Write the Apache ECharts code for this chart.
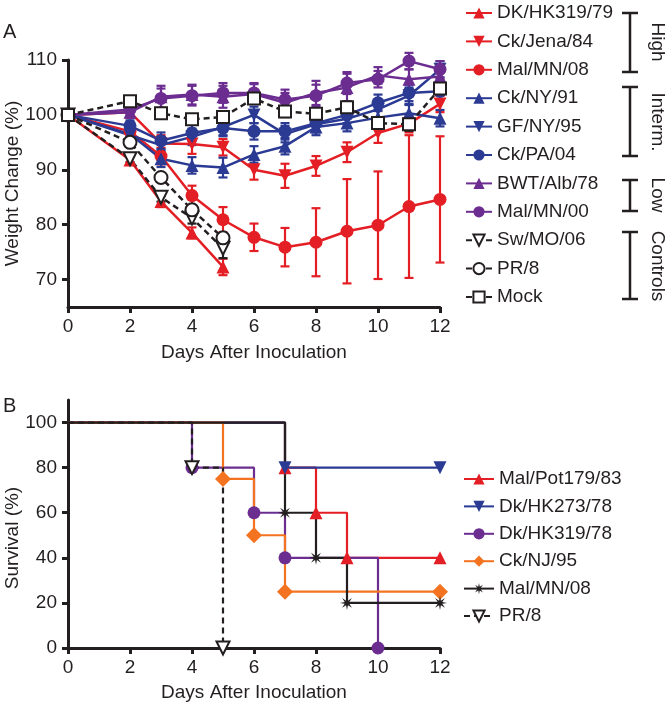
<!DOCTYPE html>
<html>
<head>
<meta charset="utf-8">
<script src="https://cdn.jsdelivr.net/npm/echarts@6/dist/echarts.min.js"></script>
<style>
  html, body { margin: 0; padding: 0; background: #fff; }
  #chart { width: 666px; height: 708px; }
</style>
</head>
<body>
<div id="chart"></div>
<script>
// ---- panel A: weight change (%) ----
const days = [0, 2, 3, 4, 5, 6, 7, 8, 9, 10, 11, 12];
const daysShort = [0, 2, 3, 4, 5];

const dkHK319_79 = [100, 91.8, 84.2, 78.5, 72.3];
const dkHK319_79Err = [0, 0.8, 1, 1, 1.5];
const ckJena84 = [100, 100.5, 94.8, 94.7, 94.1, 90, 88.9, 90.7, 93.2, 96.7, 98.4, 102];
const ckJena84Err = [0, 1, 1.5, 1.8, 1.5, 1.8, 2.2, 1.8, 1.8, 1.8, 1.6, 1.5];
const malMN08 = [100, 97, 92.5, 85.3, 80.9, 77.7, 75.9, 76.8, 78.8, 79.9, 83.3, 84.6];
const malMN08Err = [0, 1, 1.5, 1.8, 2.3, 2.5, 3.5, 6.2, 9.5, 9.8, 13, 11.5];
const ckNY91 = [100, 96.5, 92, 90.8, 90.4, 92.8, 94.3, 97.8, 98.5, 99.5, 100.3, 99.4];
const ckNY91Err = [0, 1, 1.5, 1.5, 1.8, 1.5, 1.5, 1.5, 1.5, 1.5, 1.5, 1.5];
const gfNY95 = [100, 96.3, 94.5, 96, 97.8, 100, 96.5, 98.3, 99.3, 101, 103.5, 108.3];
const gfNY95Err = [0, 1, 1.5, 1.5, 1.5, 1.5, 1.5, 1.5, 1.5, 1.5, 1.5, 1.5];
const ckPA04 = [100, 98, 95.3, 96.7, 97.6, 97, 97, 98.5, 100, 102.2, 104, 104.3];
const ckPA04Err = [0, 1, 1.5, 1.5, 1.5, 1.5, 1.5, 1.5, 1.5, 1.5, 1.5, 1.5];
const bwtAlb78 = [100, 100.5, 103.3, 103.7, 103.3, 103.8, 102.2, 104, 105, 107.2, 106.5, 107];
const bwtAlb78Err = [0, 1, 2, 1.8, 2, 1.8, 1.8, 2.2, 2.5, 1.5, 1.8, 1.5];
const malMN00 = [100, 101, 103, 103.5, 104, 104, 102.8, 103.5, 105.8, 106.5, 109.8, 108.3];
const malMN00Err = [0, 1, 1.8, 1.8, 1.8, 1.8, 1.8, 2, 2, 1.5, 1.5, 1.5];
const swMO06 = [100, 92, 85, 81.2, 75.7];
const swMO06Err = [0, 0.6, 0.8, 1, 1.8];
const pr8 = [100, 95, 88.6, 82.7, 77.6];
const pr8Err = [0, 0.5, 0.5, 0.6, 0.6];
const mock = [100, 102.5, 100.3, 99.2, 99.6, 103, 100.6, 100.2, 101.4, 98.5, 98.3, 104.8];
const mockErr = [0, 0.8, 0.8, 0.8, 1, 1, 1, 1, 1, 1, 1.2, 1.2];

const weightTicks = [70, 80, 90, 100, 110];

// ---- panel B: survival (%) ----
const malPot179Days = [0, 7, 8, 9, 12];
const malPot179 = [100, 80, 60, 40, 40];
const dkHK273Days = [0, 7, 12];
const dkHK273 = [100, 80, 80];
const dkHK319_78Days = [0, 4, 6, 7, 10];
const dkHK319_78 = [100, 80, 60, 40, 0];
const ckNJ95Days = [0, 5, 6, 7, 12];
const ckNJ95 = [100, 75, 50, 25, 25];
const malMN08SurvDays = [0, 7, 8, 9, 12];
const malMN08Surv = [100, 60, 40, 20, 20];
const pr8SurvDays = [0, 4, 5];
const pr8Surv = [100, 80, 0];

const survTicks = [0, 20, 40, 60, 80, 100];

const RED = "#e31e24";
const BLUE = "#2b3a93";
const PURPLE = "#6b2d90";
const ORANGE = "#f37321";
const BLACK = "#231f20";
const FONT = "Liberation Sans, Arial, sans-serif";

// 8-arm asterisk marker
function asteriskPath() {
  let d = "";
  for (let k = 0; k < 16; k++) {
    const r = k % 2 === 0 ? 1 : 0.35;
    const a = (k * Math.PI) / 8;
    const px = (r * Math.cos(a)).toFixed(3);
    const py = (r * Math.sin(a)).toFixed(3);
    d += (k === 0 ? "M" : "L") + px + " " + py + " ";
  }
  return "path://" + d + "Z";
}

function errorBars(color, axis) {
  return {
    type: "custom",
    xAxisIndex: axis,
    yAxisIndex: axis,
    encode: { x: 0, y: [1, 2] },
    clip: false,
    renderItem: function (params, api) {
      const top = api.coord([api.value(0), api.value(2)]);
      const bot = api.coord([api.value(0), api.value(1)]);
      const w = 4.5;
      const style = { stroke: color, lineWidth: 2.2 };
      return {
        type: "group",
        children: [
          { type: "line", shape: { x1: top[0], y1: top[1], x2: bot[0], y2: bot[1] }, style: style },
          { type: "line", shape: { x1: top[0] - w, y1: top[1], x2: top[0] + w, y2: top[1] }, style: style },
          { type: "line", shape: { x1: bot[0] - w, y1: bot[1], x2: bot[0] + w, y2: bot[1] }, style: style },
        ],
      };
    },
  };
}

function weightSeries(name, x, y, err, color, sym, open, dashed) {
  const line = {
    name: name,
    type: "line",
    xAxisIndex: 0,
    yAxisIndex: 0,
    data: x.map((d, i) => [d, y[i]]),
    symbol: sym.symbol,
    symbolRotate: sym.rotate || 0,
    symbolSize: sym.size || 12,
    clip: false,
    lineStyle: { color: color, width: 2.5, type: dashed ? [6, 4] : "solid" },
    itemStyle: open
      ? { color: "#fff", borderColor: color, borderWidth: 2 }
      : { color: color, borderWidth: 0 },
  };
  const eb = errorBars(color, 0);
  eb.data = x
    .map((d, i) => [d, y[i] - err[i], y[i] + err[i]])
    .filter((p, i) => err[i] > 0);
  return [eb, line];
}

function survSeries(name, x, y, color, sym, open, dashed) {
  return {
    name: name,
    type: "line",
    xAxisIndex: 1,
    yAxisIndex: 1,
    step: "end",
    clip: false,
    data: x.map((d, i) =>
      i === 0 ? { value: [d, y[i]], symbol: "none" } : { value: [d, y[i]] }
    ),
    symbol: sym.symbol,
    symbolRotate: sym.rotate || 0,
    symbolSize: sym.size || 13,
    lineStyle: { color: color, width: 2.2, type: dashed ? [6, 4] : "solid" },
    itemStyle: open
      ? { color: "#fff", borderColor: color, borderWidth: 2 }
      : { color: color, borderWidth: 0 },
  };
}

const TRI_UP = { symbol: "triangle", size: 13 };
const TRI_DN = { symbol: "triangle", rotate: 180, size: 13 };
const CIRC = { symbol: "circle", size: 13 };
const SQ = { symbol: "rect", size: 12 };
const DIA = { symbol: "diamond", size: 16 };
const AST = { symbol: asteriskPath(), size: 14 };

const seriesA = [].concat(
  weightSeries("DK/HK319/79", daysShort, dkHK319_79, dkHK319_79Err, RED, TRI_UP),
  weightSeries("Ck/Jena/84", days, ckJena84, ckJena84Err, RED, TRI_DN),
  weightSeries("Mal/MN/08", days, malMN08, malMN08Err, RED, CIRC),
  weightSeries("Ck/NY/91", days, ckNY91, ckNY91Err, BLUE, TRI_UP),
  weightSeries("GF/NY/95", days, gfNY95, gfNY95Err, BLUE, TRI_DN),
  weightSeries("Ck/PA/04", days, ckPA04, ckPA04Err, BLUE, CIRC),
  weightSeries("BWT/Alb/78", days, bwtAlb78, bwtAlb78Err, PURPLE, TRI_UP),
  weightSeries("Mal/MN/00", days, malMN00, malMN00Err, PURPLE, CIRC),
  weightSeries("Sw/MO/06", daysShort, swMO06, swMO06Err, BLACK, TRI_DN, true, true),
  weightSeries("PR/8", daysShort, pr8, pr8Err, BLACK, CIRC, true, true),
  weightSeries("Mock", days, mock, mockErr, BLACK, SQ, true, true)
);
const namesA = ["DK/HK319/79", "Ck/Jena/84", "Mal/MN/08", "Ck/NY/91", "GF/NY/95", "Ck/PA/04",
  "BWT/Alb/78", "Mal/MN/00", "Sw/MO/06", "PR/8", "Mock"];

// names in panel B get a trailing space so they don't collide with panel A's legend
const seriesB = [
  survSeries("Mal/Pot179/83", malPot179Days, malPot179, RED, TRI_UP),
  survSeries("Dk/HK273/78", dkHK273Days, dkHK273, BLUE, TRI_DN),
  survSeries("Dk/HK319/78", dkHK319_78Days, dkHK319_78, PURPLE, CIRC),
  survSeries("Ck/NJ/95", ckNJ95Days, ckNJ95, ORANGE, DIA),
  survSeries("PR/8 ", pr8SurvDays, pr8Surv, BLACK, TRI_DN, true, true),
  survSeries("Mal/MN/08 ", malMN08SurvDays, malMN08Surv, BLACK, AST),
];
const namesB = ["Mal/Pot179/83", "Dk/HK273/78", "Dk/HK319/78", "Ck/NJ/95", "Mal/MN/08 ", "PR/8 "];

function xAxisCfg(idx, gap) {
  return {
    type: "value",
    gridIndex: idx,
    min: 0,
    max: 12,
    interval: 2,
    name: "Days After Inoculation",
    nameLocation: "middle",
    nameGap: gap,
    nameMoveOverlap: false,
    nameTextStyle: { fontSize: 19, color: BLACK, fontFamily: FONT },
    axisLine: { show: true, onZero: false, lineStyle: { color: BLACK, width: 3 } },
    axisTick: { show: true, length: 6, lineStyle: { color: BLACK, width: 3 } },
    axisLabel: { fontSize: 19, color: BLACK, fontFamily: FONT, margin: 10 },
    splitLine: { show: false },
  };
}

function yAxisCfg(idx, min, max, ticks, name, pad) {
  return {
    type: "value",
    gridIndex: idx,
    min: min,
    max: max,
    name: name,
    nameLocation: "middle",
    nameGap: 46,
    nameMoveOverlap: false,
    nameTextStyle: { fontSize: 19, color: BLACK, fontFamily: FONT, padding: pad },
    axisLine: { show: true, onZero: false, lineStyle: { color: BLACK, width: 3 } },
    axisTick: { show: true, length: 6, customValues: ticks, lineStyle: { color: BLACK, width: 3 } },
    axisLabel: { fontSize: 19, color: BLACK, fontFamily: FONT, margin: 11, customValues: ticks },
    splitLine: { show: false },
  };
}

function bracket(x, y1, y2) {
  const st = { stroke: BLACK, lineWidth: 2.5 };
  return [
    { type: "line", shape: { x1: x, y1: y1, x2: x, y2: y2 }, style: st },
    { type: "line", shape: { x1: x - 8, y1: y1, x2: x + 8, y2: y1 }, style: st },
    { type: "line", shape: { x1: x - 8, y1: y2, x2: x + 8, y2: y2 }, style: st },
  ];
}

function sideLabel(text, y) {
  return {
    type: "text",
    x: 657,
    y: y,
    rotation: -Math.PI / 2,
    style: { text: text, fontSize: 19, fontFamily: FONT, fill: BLACK, align: "center", verticalAlign: "middle" },
  };
}

const chart = echarts.init(document.getElementById("chart"));
const option = {
  animation: false,
  backgroundColor: "#fff",
  textStyle: { fontFamily: FONT },
  grid: [
    { left: 68, top: 60, width: 372, height: 247, outerBoundsMode: "none", containLabel: false },
    { left: 68, top: 400, width: 372, height: 248, outerBoundsMode: "none", containLabel: false },
  ],
  xAxis: [xAxisCfg(0, 36), xAxisCfg(1, 35)],
  yAxis: [
    yAxisCfg(0, 65, 110, weightTicks, "Weight Change (%)", [0, 0, 0, 0]),
    yAxisCfg(1, 0, 110, survTicks, "Survival (%)", [0, 28, 0, 0]),
  ],
  legend: [
    {
      orient: "vertical",
      left: 465,
      top: 3,
      padding: 0,
      itemGap: 8.4,
      itemWidth: 26,
      itemHeight: 14,
      selectedMode: false,
      textStyle: { fontSize: 19, lineHeight: 20, color: BLACK, fontFamily: FONT },
      data: namesA,
    },
    {
      orient: "vertical",
      left: 463,
      top: 469,
      padding: 0,
      itemGap: 7.4,
      itemWidth: 30,
      itemHeight: 14,
      selectedMode: false,
      textStyle: { fontSize: 19, lineHeight: 20, color: BLACK, fontFamily: FONT },
      data: namesB,
    },
  ],
  graphic: [
    { type: "text", left: 3, top: 22, style: { text: "A", fontSize: 20, fontFamily: FONT, fill: BLACK } },
    { type: "text", left: 3, top: 396, style: { text: "B", fontSize: 20, fontFamily: FONT, fill: BLACK } },
  ].concat(
    bracket(630, 13, 72),
    bracket(630, 87, 156),
    bracket(630, 180, 211),
    bracket(630, 232, 299),
    [sideLabel("High", 42), sideLabel("Interm.", 122), sideLabel("Low", 195), sideLabel("Controls", 266)]
  ),
  series: seriesA.concat(seriesB),
};
chart.setOption(option);
</script>
</body>
</html>
